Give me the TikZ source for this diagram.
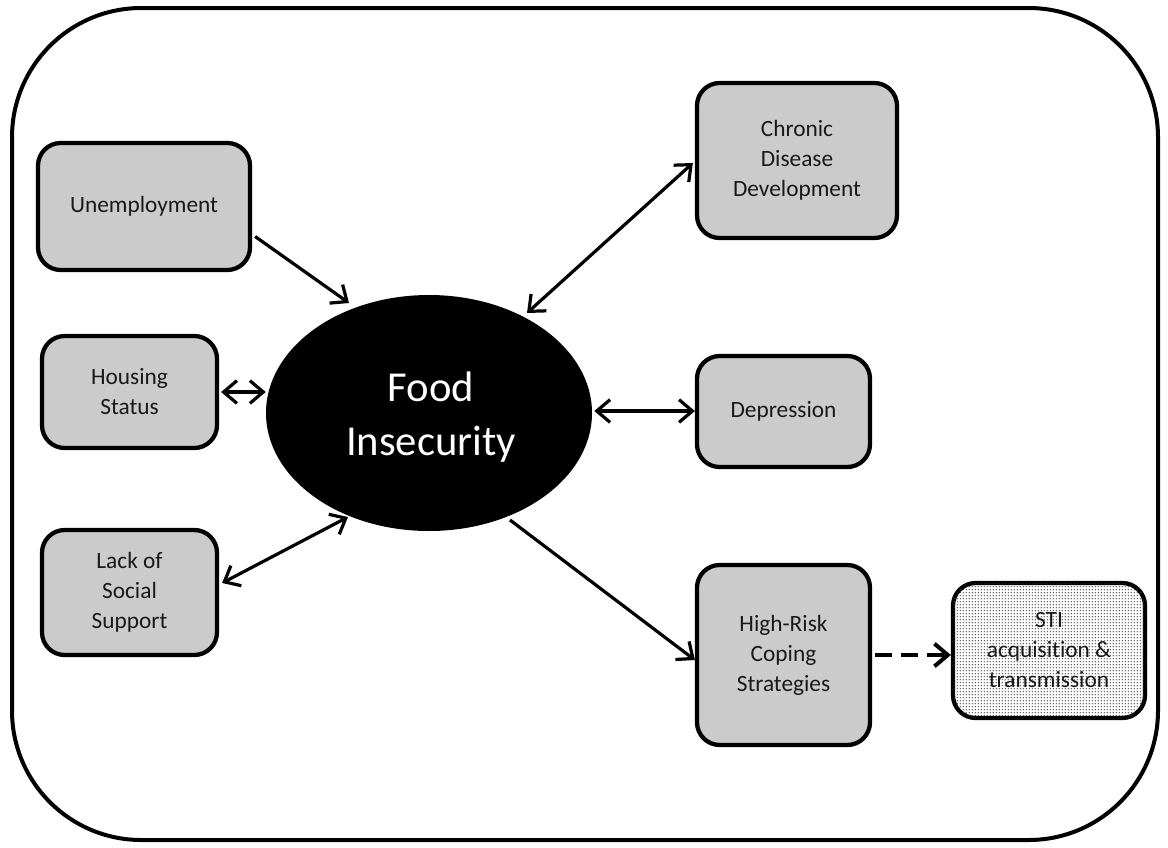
\documentclass[tikz,border=0pt]{standalone}
\usepackage{fontspec}
\setmainfont{Carlito}[Ligatures={NoCommon}]
\usetikzlibrary{arrows.meta,patterns.meta,shapes.geometric}
\definecolor{boxgray}{HTML}{CBCBCB}
\pgfdeclarepattern{
  name=stidots,
  type=uncolored,
  bottom left={\pgfpoint{0pt}{0pt}},
  top right={\pgfpoint{2.4pt}{2.4pt}},
  tile size={\pgfpoint{2.4pt}{2.4pt}},
  code={\pgfpathcircle{\pgfpoint{1.2pt}{1.2pt}}{0.55pt}\pgfusepath{fill}}
}
\begin{document}
\begin{tikzpicture}[x=0.75pt,y=-0.75pt,
  box/.style={draw=black,line width=3.2pt,rounded corners=17pt,fill=boxgray,align=center,inner sep=0pt,font=\fontsize{17.5}{22.5}\selectfont,text=black!90},
  link/.style={line width=2.4pt,draw=black},
  arr/.style={-{Straight Barb[length=10pt,width=17pt]}},
  darr/.style={{Straight Barb[length=10pt,width=17pt]}-{Straight Barb[length=10pt,width=17pt]}},
  dashlink/.style={line width=3pt,draw=black,dash pattern=on 13pt off 6.5pt}
]
\useasboundingbox (0,0) rectangle (1168,847);
\node[draw=black,line width=3pt,rounded corners=97pt,minimum width=859.5pt,minimum height=624pt,inner sep=0pt] (frame) at (585,424) {};

\node[box,minimum width=159pt,minimum height=95.25pt] (unemp) at (144,206.5) {Unemployment};
\node[box,minimum width=131.25pt,minimum height=84pt] (housing) at (129.5,392) {Housing\\Status};
\node[box,minimum width=131.25pt,minimum height=93.75pt] (lack) at (129.5,592.5) {Lack of\\Social\\Support};
\node[ellipse,fill=black,inner sep=0pt,minimum width=244.5pt,minimum height=177pt] (food) at (429,413) {};
\node[text=white,align=center,font=\fontsize{32}{40}\selectfont] (foodtext) at ([shift={(2,4)}]food.center) {Food\\Insecurity};
\node[box,minimum width=150pt,minimum height=116.25pt] (chronic) at (797,160.5) {Chronic\\Disease\\Development};
\node[box,minimum width=129.75pt,minimum height=83.25pt] (dep) at (783.5,411.5) {Depression};
\node[box,minimum width=129.75pt,minimum height=135pt] (hr) at (783.5,655) {High-Risk\\Coping\\Strategies};
\node[box,fill=white,postaction={pattern=stidots,pattern color=black!80},minimum width=144pt,minimum height=101.25pt] (sti) at (1049,650.5) {STI\\acquisition \&\\transmission};

\draw[link,arr] ([shift={(3,30)}]unemp.east) -- ([shift={(-80,-110)}]food.center);
\draw[link,darr] ([shift={(2,0)}]housing.east) -- (housing.east -| food.west);
\draw[link,darr] ([shift={(3,-9.5)}]lack.east) -- ([shift={(-81,104)}]food.center);
\draw[link,darr] ([shift={(-2,2.5)}]chronic.west) -- ([shift={(98,-100)}]food.center);
\draw[link,darr] ([shift={(2,-2)}]food.east) -- ([shift={(0,-0.5)}]dep.west);
\draw[link,arr] ([shift={(81,107)}]food.center) -- ([shift={(0,5)}]hr.west);
\draw[dashlink,arr] ([shift={(3,0)}]hr.east) -- (hr.east -| sti.west);
\end{tikzpicture}
\end{document}
